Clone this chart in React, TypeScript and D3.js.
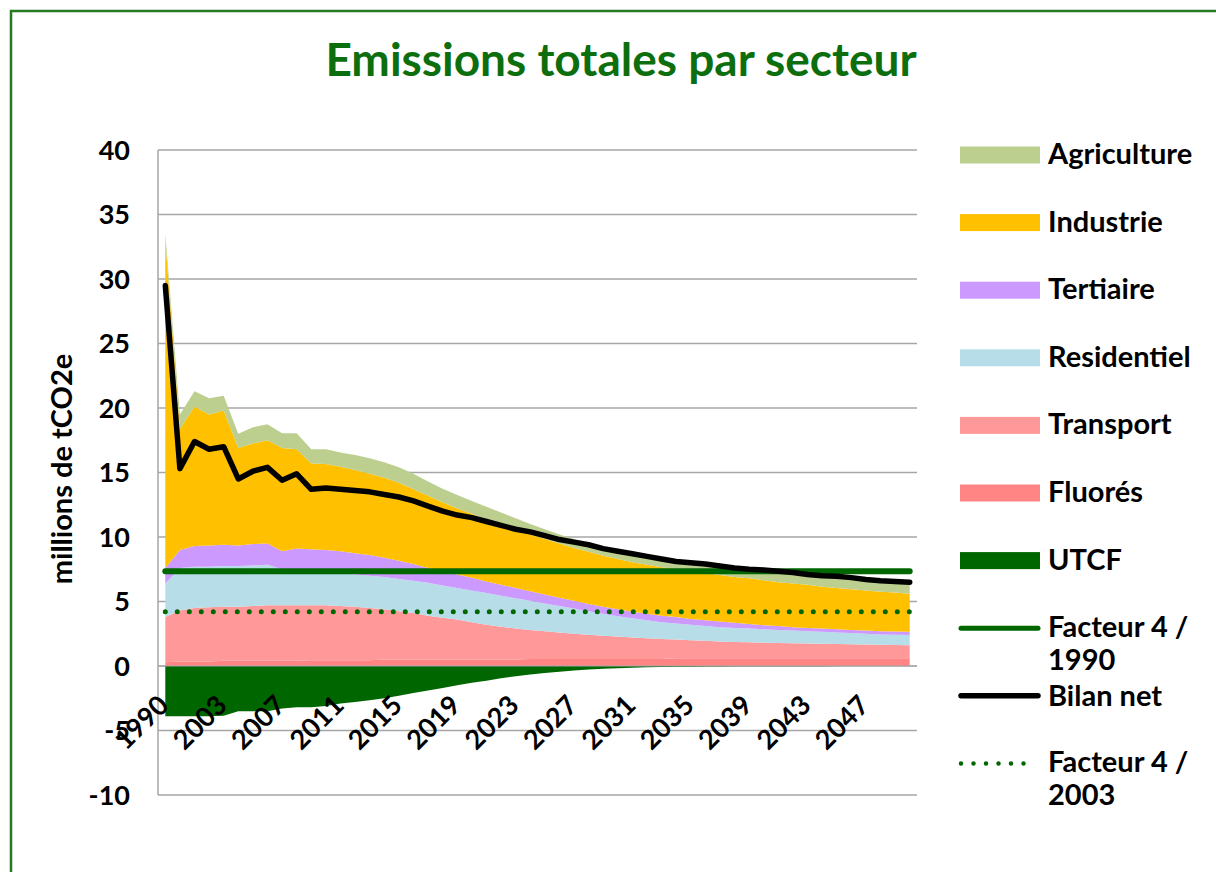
import * as d3 from "d3";

const years = [
  "1990", "2000", "2001", "2002", "2003", "2004", "2005", "2006", "2007", "2008",
  "2009", "2010", "2011", "2012", "2013", "2014", "2015", "2016", "2017", "2018",
  "2019", "2020", "2021", "2022", "2023", "2024", "2025", "2026", "2027", "2028",
  "2029", "2030", "2031", "2032", "2033", "2034", "2035", "2036", "2037", "2038",
  "2039", "2040", "2041", "2042", "2043", "2044", "2045", "2046", "2047", "2048",
  "2049", "2050",
];

// millions de tCO2e, one value per year
const fluores = [
  0.3, 0.35, 0.35, 0.35, 0.4, 0.4, 0.4, 0.4, 0.4, 0.4, 0.45, 0.45, 0.45, 0.45, 0.45,
  0.5, 0.5, 0.5, 0.5, 0.5, 0.5, 0.5, 0.5, 0.5, 0.5, 0.55, 0.55, 0.55, 0.55, 0.55,
  0.55, 0.55, 0.55, 0.55, 0.55, 0.6, 0.6, 0.6, 0.6, 0.6, 0.6, 0.6, 0.6, 0.6, 0.6,
  0.6, 0.6, 0.6, 0.6, 0.6, 0.6, 0.6,
];
const transport = [
  3.5, 3.95, 4.15, 4.2, 4.2, 4.2, 4.25, 4.3, 4.3, 4.3, 4.25, 4.25, 4.2, 4.15, 4.05,
  3.9, 3.75, 3.6, 3.4, 3.25, 3.1, 2.9, 2.7, 2.55, 2.4, 2.25, 2.15, 2.05, 1.95, 1.87,
  1.8, 1.73, 1.65, 1.6, 1.55, 1.45, 1.4, 1.35, 1.3, 1.27, 1.24, 1.2, 1.18, 1.16, 1.14,
  1.12, 1.1, 1.08, 1.06, 1.04, 1.02, 1.0,
];
const residentiel = [
  2.6, 3.3, 3.2, 3.15, 3.15, 3.15, 3.15, 3.15, 2.8, 2.7, 2.65, 2.6, 2.55, 2.5, 2.5,
  2.5, 2.5, 2.5, 2.55, 2.5, 2.45, 2.45, 2.45, 2.4, 2.35, 2.25, 2.15, 2.05, 1.95, 1.83,
  1.7, 1.57, 1.5, 1.4, 1.3, 1.25, 1.2, 1.15, 1.1, 1.08, 1.06, 1.05, 1.02, 0.99, 0.96,
  0.93, 0.9, 0.87, 0.84, 0.81, 0.8, 0.8,
];
const tertiaire = [
  1.2, 1.4, 1.6, 1.65, 1.65, 1.6, 1.65, 1.65, 1.4, 1.7, 1.7, 1.7, 1.7, 1.65, 1.6,
  1.5, 1.4, 1.3, 1.15, 1.1, 1.05, 1.0, 0.9, 0.85, 0.8, 0.75, 0.7, 0.65, 0.6, 0.55,
  0.55, 0.55, 0.5, 0.5, 0.5, 0.5, 0.45, 0.45, 0.45, 0.4, 0.35, 0.3, 0.3, 0.25, 0.25,
  0.25, 0.25, 0.25, 0.25, 0.25, 0.26, 0.25,
];
const industrie = [
  25.4, 9.4, 10.8, 10.15, 10.4, 7.55, 7.8, 8.0, 8.0, 7.7, 6.65, 6.65, 6.55, 6.45, 6.3,
  6.2, 6.05, 5.8, 5.6, 5.35, 5.1, 4.95, 4.75, 4.65, 4.55, 4.4, 4.3, 4.2, 4.1, 4.05,
  3.95, 3.9, 3.85, 3.8, 3.75, 3.7, 3.7, 3.65, 3.6, 3.55, 3.55, 3.5, 3.4, 3.4, 3.35,
  3.25, 3.2, 3.15, 3.1, 3.05, 3.02, 2.95,
];
const agriculture = [
  0.5, 1.1, 1.2, 1.25, 1.15, 1.1, 1.25, 1.25, 1.15, 1.25, 1.1, 1.15, 1.1, 1.15, 1.2,
  1.2, 1.2, 1.2, 1.1, 1.05, 1.05, 1.0, 1.05, 0.95, 0.85, 0.8, 0.75, 0.7, 0.7, 0.7,
  0.7, 0.7, 0.7, 0.7, 0.7, 0.65, 0.65, 0.7, 0.7, 0.7, 0.7, 0.8, 0.85, 0.85, 0.8,
  0.85, 0.85, 0.85, 0.85, 0.85, 0.8, 0.85,
];
const utcf = [
  -3.9, -3.9, -3.9, -3.9, -3.85, -3.5, -3.5, -3.5, -3.3, -3.2, -3.2, -3.1, -2.9, -2.8,
  -2.65, -2.5, -2.3, -2.1, -1.9, -1.7, -1.5, -1.3, -1.15, -0.95, -0.8, -0.65, -0.55,
  -0.45, -0.35, -0.28, -0.22, -0.17, -0.13, -0.1, -0.08, -0.06, -0.05, -0.04, -0.03,
  -0.02, -0.02, -0.02, -0.02, -0.01, -0.01, -0.01, 0, 0, 0, 0, 0, 0,
];
const bilanNet = [
  29.5, 15.3, 17.4, 16.8, 17.0, 14.5, 15.1, 15.4, 14.4, 14.9, 13.7, 13.8, 13.7, 13.6,
  13.5, 13.3, 13.1, 12.8, 12.4, 12.0, 11.7, 11.5, 11.2, 10.9, 10.6, 10.4, 10.1, 9.8,
  9.6, 9.4, 9.1, 8.9, 8.7, 8.5, 8.3, 8.1, 8.0, 7.9, 7.75, 7.6, 7.5, 7.45, 7.35, 7.25,
  7.1, 7.0, 6.95, 6.85, 6.7, 6.6, 6.55, 6.5,
];
const facteur1990 = 7.35;
const facteur2003 = 4.2;

const xTickLabels = [
  "1990", "2003", "2007", "2011", "2015", "2019", "2023", "2027", "2031", "2035",
  "2039", "2043", "2047",
];
const yTicks = [-10, -5, 0, 5, 10, 15, 20, 25, 30, 35, 40];

const FONT = "Lato, 'Open Sans', sans-serif";
const GREEN = "#006600";

const seriesKeys = ["Fluorés", "Transport", "Residentiel", "Tertiaire", "Industrie", "Agriculture", "UTCF"];
const seriesValues: Record<string, number[]> = {
  "Fluorés": fluores,
  Transport: transport,
  Residentiel: residentiel,
  Tertiaire: tertiaire,
  Industrie: industrie,
  Agriculture: agriculture,
  UTCF: utcf,
};
const colors: Record<string, string> = {
  Agriculture: "#bccf8f",
  Industrie: "#ffc000",
  Tertiaire: "#cc99ff",
  Residentiel: "#b7dde8",
  Transport: "#ff9999",
  "Fluorés": "#ff8585",
  UTCF: GREEN,
};

const legendItems = [
  { kind: "area", key: "Agriculture", lines: ["Agriculture"] },
  { kind: "area", key: "Industrie", lines: ["Industrie"] },
  { kind: "area", key: "Tertiaire", lines: ["Tertiaire"] },
  { kind: "area", key: "Residentiel", lines: ["Residentiel"] },
  { kind: "area", key: "Transport", lines: ["Transport"] },
  { kind: "area", key: "Fluorés", lines: ["Fluorés"] },
  { kind: "area", key: "UTCF", lines: ["UTCF"] },
  { kind: "line", key: "f1990", lines: ["Facteur 4 /", "1990"] },
  { kind: "black", key: "bilan", lines: ["Bilan net"] },
  { kind: "dots", key: "f2003", lines: ["Facteur 4 /", "2003"] },
];

export default function App() {
  const x = d3.scalePoint<string>().domain(years).range([158, 917]).padding(0.5);
  const y = d3.scaleLinear().domain([-10, 40]).range([795, 150]);

  const rows = years.map((yr, i) => {
    const r: any = { year: yr };
    seriesKeys.forEach((k) => (r[k] = seriesValues[k][i]));
    return r;
  });
  const stacked = d3.stack<any>().keys(seriesKeys).offset(d3.stackOffsetDiverging)(rows);

  const area = d3
    .area<any>()
    .x((d) => x(d.data.year)!)
    .y0((d) => y(d[0]))
    .y1((d) => y(d[1]));

  const valueLine = d3
    .line<number>()
    .x((_, i) => x(years[i])!)
    .y((v) => y(v));

  const first = x(years[0])!;
  const last = x(years[years.length - 1])!;

  return (
    <svg width={1216} height={872} style={{ position: "absolute", left: 0, top: 0 }} fontFamily={FONT}>
      <rect x={0} y={0} width={1216} height={872} fill="#fff" />
      <rect x={11} y={11} width={1240} height={900} fill="none" stroke="#237a23" strokeWidth={2.5} />

      <text x={621} y={76} textAnchor="middle" fontSize={46} fontWeight="bold" fill="#0d6e0d">
        Emissions totales par secteur
      </text>

      {/* grid */}
      {yTicks.map((t) => (
        <line key={t} x1={158} x2={917} y1={y(t)} y2={y(t)} stroke="#a6a6a6" strokeWidth={1.5} />
      ))}
      <line x1={158} x2={158} y1={y(40)} y2={y(-10)} stroke="#a6a6a6" strokeWidth={1.5} />

      {stacked.map((s) => (
        <path key={s.key} d={area(s as any)!} fill={colors[s.key]} />
      ))}
      <line x1={158} x2={917} y1={y(0)} y2={y(0)} stroke="#a6a6a6" strokeWidth={1} />

      <path
        d={valueLine(years.map(() => facteur2003))!}
        fill="none"
        stroke={GREEN}
        strokeWidth={5}
        strokeDasharray="0 12"
        strokeLinecap="round"
      />
      <line x1={first} x2={last} y1={y(facteur1990)} y2={y(facteur1990)} stroke={GREEN} strokeWidth={6} strokeLinecap="round" />
      <path d={valueLine(bilanNet)!} fill="none" stroke="#000" strokeWidth={5.5} strokeLinejoin="round" strokeLinecap="round" />

      {/* y axis labels */}
      {yTicks.map((t) => (
        <text key={t} x={130} y={y(t)} dy="0.36em" textAnchor="end" fontSize={27} fontWeight="bold" fill="#000">
          {t}
        </text>
      ))}
      <text
        transform={`translate(72,469) rotate(-90)`}
        textAnchor="middle"
        fontSize={29}
        fontWeight="bold"
        fill="#000"
      >
        millions de tCO2e
      </text>

      {/* x axis labels */}
      {years
        .filter((yr) => xTickLabels.includes(yr))
        .map((yr) => (
          <text
            key={yr}
            transform={`translate(${x(yr)! + 5},707) rotate(-45)`}
            textAnchor="end"
            fontSize={27}
            fontWeight="bold"
            fill="#000"
          >
            {yr}
          </text>
        ))}

      {/* legend */}
      {legendItems.map((it, k) => {
        const cy = 155 + 67.6 * k;
        return (
          <g key={it.key}>
            {it.kind === "area" && <rect x={960} y={cy - 8.5} width={80} height={17} fill={colors[it.key]} />}
            {it.kind === "line" && (
              <line x1={961} x2={1038} y1={cy} y2={cy} stroke={GREEN} strokeWidth={5} strokeLinecap="round" />
            )}
            {it.kind === "black" && (
              <line x1={961} x2={1038} y1={cy} y2={cy} stroke="#000" strokeWidth={5.5} strokeLinecap="round" />
            )}
            {it.kind === "dots" && (
              <line
                x1={961}
                x2={1036}
                y1={cy}
                y2={cy}
                stroke={GREEN}
                strokeWidth={4.5}
                strokeDasharray="0 12.5"
                strokeLinecap="round"
              />
            )}
            {it.lines.map((ln, j) => (
              <text
                key={j}
                x={1048}
                y={cy + (it.lines.length > 1 ? 9 : it.kind === "black" ? 10 : 9) + j * 33}
                fontSize={29}
                fontWeight="bold"
                fill="#000"
              >
                {ln}
              </text>
            ))}
          </g>
        );
      })}
    </svg>
  );
}
